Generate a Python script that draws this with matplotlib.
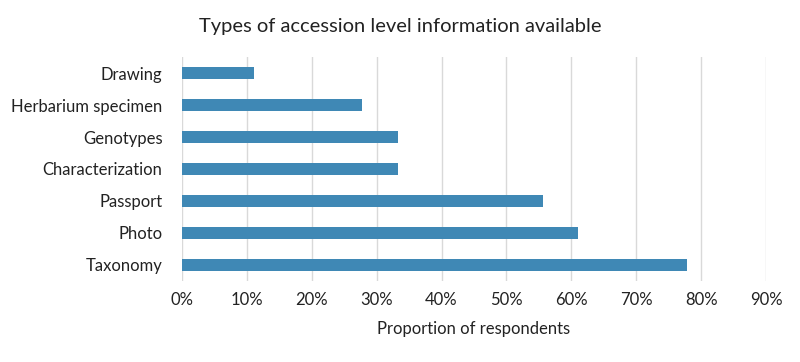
import matplotlib
matplotlib.use("Agg")
import matplotlib.pyplot as plt
from matplotlib.ticker import PercentFormatter

categories = ["Taxonomy", "Photo", "Passport", "Characterization", "Genotypes",
              "Herbarium specimen", "Drawing"]
values = [77.8, 61.1, 55.6, 33.3, 33.3, 27.8, 11.1]
xticks = [0, 10, 20, 30, 40, 50, 60, 70, 80, 90]

plt.rcParams['font.family'] = ['Lato', 'DejaVu Sans']

fig = plt.figure(figsize=(8, 3.62), dpi=100)
ax = fig.add_axes([0.2275, 0.2238, 0.73, 0.6187])

ax.barh(range(len(categories)), values, height=0.38, color="#3F88B5", zorder=3)
ax.set_yticks(range(len(categories)))
ax.set_yticklabels(categories, fontsize=12, color="#222222")
ax.set_ylim(-0.5, len(categories) - 0.5)
ax.set_xlim(0, 90)
ax.set_xticks(xticks)
ax.xaxis.set_major_formatter(PercentFormatter(decimals=0))
ax.tick_params(axis='x', labelsize=12, colors="#222222", length=0, pad=8)
ax.tick_params(axis='y', length=0, pad=14)
ax.grid(axis='x', color="#D9D9D9", linewidth=1, zorder=0)
for s in ax.spines.values():
    s.set_visible(False)
ax.set_xlabel("Proportion of respondents", fontsize=12, color="#222222", labelpad=9)
fig.text(0.5, 0.928, "Types of accession level information available", ha='center',
         va='center', fontsize=14.5, color="#222222")

fig.savefig("out.png", dpi=100)
